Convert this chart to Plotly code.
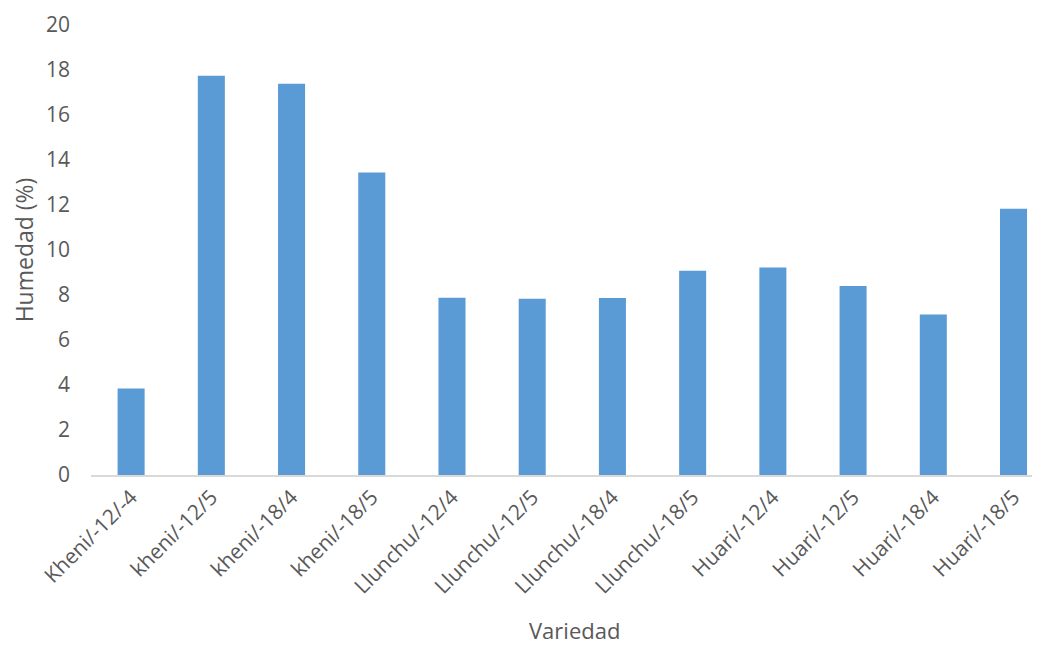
import plotly.graph_objects as go

categories = ["Kheni/-12/-4", "kheni/-12/5", "kheni/-18/4", "kheni/-18/5",
              "Llunchu/-12/4", "Llunchu/-12/5", "Llunchu/-18/4", "Llunchu/-18/5",
              "Huari/-12/4", "Huari/-12/5", "Huari/-18/4", "Huari/-18/5"]
humedad = [3.85, 17.74, 17.39, 13.45, 7.88, 7.83, 7.87, 9.08, 9.22, 8.40, 7.13, 11.83]
y_ticks = [0, 2, 4, 6, 8, 10, 12, 14, 16, 18, 20]

font_family = "Open Sans, Liberation Sans, sans-serif"
txt = "#595959"

fig = go.Figure(go.Bar(
    x=list(range(len(categories))), y=humedad,
    marker=dict(color="#5B9BD5", line=dict(width=0)),
))

fig.update_layout(
    width=1040, height=646,
    paper_bgcolor="white", plot_bgcolor="white",
    margin=dict(l=83, r=8, t=17, b=179),
    bargap=0.663,
    showlegend=False,
    font=dict(family=font_family, color=txt, size=21),
    annotations=[dict(
        text="Variedad", xref="paper", yref="paper", x=0.51, y=-0.345,
        xanchor="center", yanchor="middle", showarrow=False,
        font=dict(size=22, color=txt),
    )],
)
fig.update_xaxes(
    automargin=False,
    tickmode="array", tickvals=list(range(len(categories))), ticktext=categories,
    range=[-0.5, 11.33], tickangle=-45,
    showline=True, linecolor="#D9D9D9", linewidth=1.5,
    showgrid=False, ticks="", zeroline=False,
    tickfont=dict(size=21, color=txt),
)
fig.update_yaxes(
    automargin=False,
    range=[0, 20], tickmode="array", tickvals=y_ticks,
    showgrid=False, zeroline=False, showline=False, ticks="",
    tickfont=dict(size=21, color=txt), ticklabelstandoff=20,
    title=dict(text="Humedad (%)", font=dict(size=23, color=txt), standoff=14),
)

fig.write_html("out.html")
